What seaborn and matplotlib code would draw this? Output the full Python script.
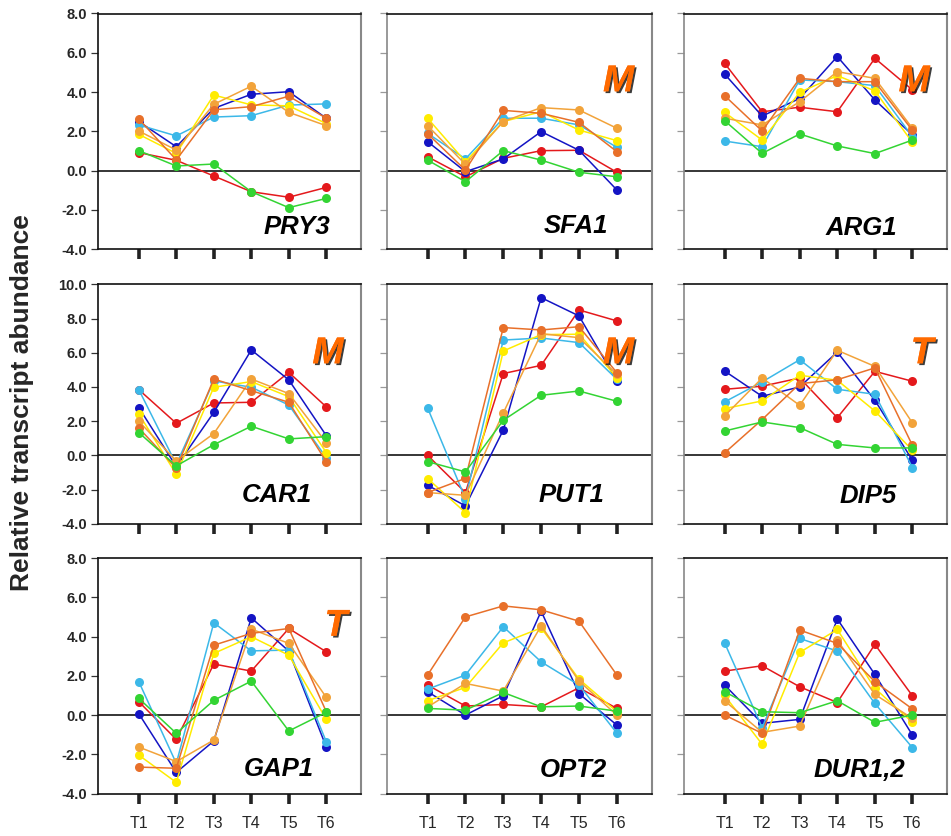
import numpy as np
import pandas as pd
import matplotlib
matplotlib.use("Agg")
import matplotlib.pyplot as plt
import matplotlib.patheffects as pe
import seaborn as sns

# ---------------- data ----------------
SERIES = ["red", "navy", "cyan", "yellow", "gold", "orange", "green"]
TIMES = [1, 2, 3, 4, 5, 6]
TIME_LABELS = ["T1", "T2", "T3", "T4", "T5", "T6"]
GENES = ["PRY3", "SFA1", "ARG1", "CAR1", "PUT1", "DIP5", "GAP1", "OPT2", "DUR1,2"]
BADGES = ["", "M", "M", "M", "M", "T", "T", "", ""]
YTICKS_ROW = [[-4, -2, 0, 2, 4, 6, 8], [-4, -2, 0, 2, 4, 6, 8, 10], [-4, -2, 0, 2, 4, 6, 8]]

PRY3 = {
    "red":    [0.92, 0.53, -0.27, -1.07, -1.35, -0.85],
    "navy":   [2.50, 1.22, 3.17, 3.89, 4.02, 2.67],
    "cyan":   [2.33, 1.77, 2.73, 2.80, 3.34, 3.40],
    "yellow": [1.85, 0.88, 3.85, 3.35, 3.30, 2.40],
    "gold":   [2.02, 1.05, 3.38, 4.30, 2.97, 2.29],
    "orange": [2.63, 0.55, 3.10, 3.26, 3.79, 2.67],
    "green":  [1.02, 0.24, 0.34, -1.07, -1.88, -1.41],
}
SFA1 = {
    "red":    [0.71, -0.31, 0.63, 1.02, 1.04, -0.08],
    "navy":   [1.48, -0.05, 0.60, 1.99, 1.04, -0.98],
    "cyan":   [1.90, 0.60, 2.67, 2.67, 2.33, 1.19],
    "yellow": [2.67, 0.46, 2.50, 3.00, 2.07, 1.53],
    "gold":   [2.29, 0.32, 2.50, 3.21, 3.09, 2.16],
    "orange": [1.88, 0.03, 3.07, 2.92, 2.46, 0.97],
    "green":  [0.54, -0.56, 1.02, 0.54, -0.08, -0.31],
}
ARG1 = {
    "red":    [5.47, 3.00, 3.23, 3.00, 5.72, 4.11],
    "navy":   [4.92, 2.78, 3.68, 5.81, 3.60, 1.82],
    "cyan":   [1.51, 1.22, 4.62, 4.53, 4.33, 1.73],
    "yellow": [2.97, 1.56, 3.99, 4.84, 4.06, 1.44],
    "gold":   [2.67, 2.33, 3.51, 5.04, 4.70, 2.16],
    "orange": [3.82, 2.02, 4.70, 4.53, 4.53, 2.05],
    "green":  [2.55, 0.88, 1.87, 1.26, 0.87, 1.56],
}
CAR1 = {
    "red":    [3.84, 1.87, 3.06, 3.10, 4.85, 2.83],
    "navy":   [2.79, -0.66, 2.51, 6.16, 4.41, 1.15],
    "cyan":   [3.84, -0.53, 4.35, 3.98, 2.94, -0.14],
    "yellow": [2.42, -1.11, 3.98, 4.31, 3.43, 0.16],
    "gold":   [1.99, -0.33, 1.27, 4.46, 3.61, 0.74],
    "orange": [1.60, -0.76, 4.46, 3.78, 3.10, -0.37],
    "green":  [1.33, -0.62, 0.62, 1.70, 0.96, 1.09],
}
PUT1 = {
    "red":    [0.00, -2.18, 4.78, 5.26, 8.50, 7.86],
    "navy":   [-1.75, -2.96, 1.48, 9.22, 8.15, 4.35],
    "cyan":   [2.77, -2.53, 6.74, 6.86, 6.59, 4.44],
    "yellow": [-1.36, -3.35, 6.10, 7.06, 7.08, 4.54],
    "gold":   [-2.18, -2.34, 2.48, 7.11, 6.88, 4.74],
    "orange": [-2.18, -1.35, 7.47, 7.33, 7.52, 4.83],
    "green":  [-0.37, -0.97, 2.05, 3.51, 3.76, 3.16],
}
DIP5 = {
    "red":    [3.86, 4.04, 4.52, 2.20, 4.91, 4.33],
    "navy":   [4.93, 3.45, 4.00, 6.04, 3.22, -0.29],
    "cyan":   [3.12, 4.29, 5.59, 3.86, 3.57, -0.72],
    "yellow": [2.73, 3.18, 4.68, 4.39, 2.59, 0.29],
    "gold":   [2.30, 4.52, 2.92, 6.14, 5.20, 1.89],
    "orange": [0.14, 2.09, 4.19, 4.42, 5.11, 0.58],
    "green":  [1.42, 1.95, 1.62, 0.64, 0.43, 0.43],
}
GAP1 = {
    "red":    [0.68, -1.24, 2.60, 2.24, 4.41, 3.22],
    "navy":   [0.07, -2.92, -1.32, 4.95, 3.26, -1.63],
    "cyan":   [1.70, -2.46, 4.70, 3.27, 3.31, -1.36],
    "yellow": [-2.04, -3.43, 3.14, 3.99, 3.05, -0.22],
    "gold":   [-1.63, -2.37, -1.27, 4.38, 3.65, 0.90],
    "orange": [-2.65, -2.71, 3.56, 4.16, 4.41, 0.17],
    "green":  [0.85, -0.93, 0.75, 1.73, -0.81, 0.14],
}
OPT2 = {
    "red":    [1.53, 0.46, 0.54, 0.42, 1.39, 0.34],
    "navy":   [1.19, 0.00, 0.98, 5.29, 1.09, -0.51],
    "cyan":   [1.32, 2.04, 4.50, 2.71, 1.53, -0.92],
    "yellow": [0.73, 1.41, 3.68, 4.44, 1.83, 0.17],
    "gold":   [0.41, 1.61, 1.22, 4.55, 1.73, 0.00],
    "orange": [2.04, 5.00, 5.56, 5.36, 4.78, 2.04],
    "green":  [0.34, 0.25, 1.15, 0.42, 0.46, 0.20],
}
DUR12 = {
    "red":    [2.24, 2.51, 1.44, 0.64, 3.60, 0.98],
    "navy":   [1.53, -0.42, -0.22, 4.89, 2.07, -1.02],
    "cyan":   [3.68, -0.64, 3.90, 3.26, 0.59, -1.66],
    "yellow": [1.00, -1.49, 3.19, 4.36, 1.36, -0.37],
    "gold":   [0.73, -0.88, -0.56, 3.82, 1.05, -0.17],
    "orange": [0.00, -0.93, 4.33, 3.65, 1.70, 0.31],
    "green":  [1.19, 0.17, 0.12, 0.73, -0.37, 0.00],
}
GENE_DATA = [PRY3, SFA1, ARG1, CAR1, PUT1, DIP5, GAP1, OPT2, DUR12]

PALETTE = {
    "red": "#e4191c",
    "navy": "#1414c4",
    "cyan": "#3cb8e8",
    "yellow": "#ffec00",
    "gold": "#f2a33a",
    "orange": "#e8702a",
    "green": "#33d433",
}

rows = []
for gene, d in zip(GENES, GENE_DATA):
    for s in SERIES:
        for t, v in zip(TIMES, d[s]):
            rows.append({"gene": gene, "series": s, "time": t, "value": v})
df = pd.DataFrame(rows)

# ---------------- layout ----------------
LABEL_X = [0.883, 0.835, 0.81, 0.815, 0.82, 0.81, 0.82, 0.83, 0.84]
LABEL_Y = [0.065, 0.07, 0.06, 0.09, 0.09, 0.085, 0.076, 0.072, 0.072]

sns.set_style("ticks")
plt.rcParams["font.family"] = ["Liberation Sans", "DejaVu Sans"]

fig = plt.figure(figsize=(9.51, 8.36), dpi=100)
W, H = 951.0, 836.0
col_left = [98.3, 386.7, 684.0]
col_w = [262.5, 265.0, 263.0]
row_top = [13.5, 284.3, 558.0]
row_bot = [249.3, 523.7, 793.6]

for i, gene in enumerate(GENES):
    r, c = divmod(i, 3)
    ax = fig.add_axes([col_left[c] / W, 1 - row_bot[r] / H,
                       col_w[c] / W, (row_bot[r] - row_top[r]) / H])
    sub = df[df["gene"] == gene]
    ax.axhline(0, color="black", lw=1.1, zorder=1)
    sns.lineplot(data=sub, x="time", y="value", hue="series", hue_order=SERIES,
                 palette=PALETTE, marker="o", markersize=6.5, markeredgewidth=0,
                 linewidth=1.1, legend=False, ax=ax, sort=False,
                 estimator=None, errorbar=None, zorder=3)
    yt = YTICKS_ROW[r]
    ax.set_ylim(yt[0], yt[-1])
    ax.set_yticks(yt)
    ax.set_xlim(-0.08, 6.92)
    ax.set_xticks(TIMES)
    ax.set_xlabel("")
    ax.set_ylabel("")
    if c == 0:
        ax.set_yticklabels([f"{v:.1f}" for v in yt], fontsize=10.5, fontweight="bold")
    else:
        ax.set_yticklabels([])
    if r == 2:
        ax.set_xticklabels(TIME_LABELS, fontsize=11.5)
    else:
        ax.set_xticklabels([])
    ax.tick_params(axis="x", direction="out", length=7, width=2.6, color="#222222", pad=9)
    ax.tick_params(axis="y", direction="out", length=5, width=0.9,
                   color="#333333" if c == 0 else "#999999", pad=3)
    for side in ["top", "bottom"]:
        ax.spines[side].set_color("#111111")
        ax.spines[side].set_linewidth(1.2)
    ax.spines["left"].set_color("#111111" if c == 0 else "#888888")
    ax.spines["left"].set_linewidth(1.2)
    ax.spines["right"].set_color("#888888")
    ax.spines["right"].set_linewidth(1.5)
    for s in ax.spines.values():
        s.set_visible(True)

    ax.text(LABEL_X[i], LABEL_Y[i], gene, transform=ax.transAxes, ha="right", va="baseline",
            fontsize=18.5, fontweight="bold", fontstyle="italic", color="black", zorder=5)
    badge = BADGES[i]
    if badge:
        bx = 0.875 if badge == "M" else 0.905
        ax.text(bx, 0.67, badge, transform=ax.transAxes, ha="center", va="baseline",
                fontsize=27, fontweight="bold", fontstyle="italic", color="#ff6a00",
                zorder=6,
                path_effects=[pe.withSimplePatchShadow(offset=(1.3, -1.3),
                                                       shadow_rgbFace="#1a1a1a", alpha=0.85),
                              pe.Normal()])

fig.text(22 / W, 1 - 403 / H, "Relative transcript abundance", rotation=90,
         ha="center", va="center", fontsize=19, fontweight="bold")

fig.savefig("out.png", dpi=100, facecolor="white")
